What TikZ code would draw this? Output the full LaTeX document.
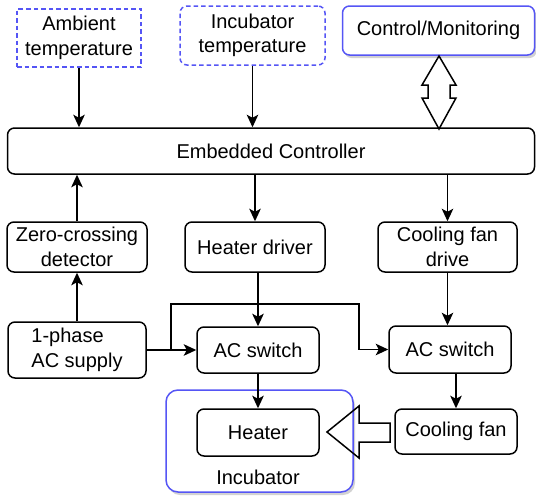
\documentclass[tikz,border=0pt]{standalone}
\usepackage{fontspec}
\setmainfont{Liberation Sans}
\usetikzlibrary{arrows.meta,shadows}
\definecolor{dblue}{RGB}{85,85,245}
\begin{document}
\begin{tikzpicture}[x=1pt,y=-1pt,line width=1.5pt,
  box/.style={draw, rounded corners=7pt, align=center, inner sep=0pt, fill=white,
    font=\fontsize{20}{24.5}\selectfont},
  sens/.style={box, draw=dblue, dash pattern=on 4.5pt off 3pt},
  arr/.style={-{Stealth[length=12.5pt,width=11.5pt,inset=3pt]}},
  lbl/.style={inner sep=0pt, font=\fontsize{20}{24.5}\selectfont},
  shad/.style={drop shadow={shadow xshift=2pt,shadow yshift=-3pt,fill=black!25,opacity=0.7}}]
\useasboundingbox (0,0) rectangle (536,498);
% top row
\node[sens, sharp corners, minimum width=124pt, minimum height=58pt] (amb) at (79,38) {Ambient\\temperature};
\node[sens, minimum width=145pt, minimum height=59pt] (inct) at (252.5,35.5) {Incubator\\temperature};
\node[box, draw=dblue, shad, minimum width=192pt, minimum height=49pt] (ctl) at (438.5,30.5) {Control/Monitoring};
% controller
\node[box, minimum width=527pt, minimum height=46pt] (ec) at (271,151) {Embedded Controller};
% middle row
\node[box, minimum width=140pt, minimum height=50pt] (zc) at (77,247) {Zero-crossing\\detector};
\node[box, minimum width=140pt, minimum height=50pt] (hd) at (255,247) {Heater driver};
\node[box, minimum width=139pt, minimum height=50pt] (cfd) at (447.5,247) {Cooling fan\\drive};
% lower rows
\node[box, minimum width=138pt, minimum height=56pt] (ac) at (77,350) {\begin{tabular}{@{}l@{}}1-phase\\AC supply\end{tabular}};
\node[box, minimum width=122pt, minimum height=46pt] (sw1) at (258,350) {AC switch};
\node[box, minimum width=122pt, minimum height=47pt] (sw2) at (450,349.5) {AC switch};
\node[box, draw=dblue, rounded corners=12pt, shad, minimum width=187pt, minimum height=102pt] (inc) at (259.5,441) {};
\node[lbl] (inclbl) at (258,477) {Incubator};
\node[box, minimum width=122pt, minimum height=47pt] (heat) at (258,432.5) {Heater};
\node[box, minimum width=122pt, minimum height=45pt] (fan) at (456,431.5) {Cooling fan};
% connectors
\draw[arr] (amb.south) -- (amb.south |- ec.north);
\draw[arr] (inct.south) -- (inct.south |- ec.north);
\draw[arr] (hd.north |- ec.south) -- (hd.north);
\draw[arr] (cfd.north |- ec.south) -- (cfd.north);
\draw[arr] (zc.north) -- (zc.north |- ec.south);
\draw[arr] (ac.north) -- (ac.north |- zc.south);
\draw[arr] (sw1.north |- hd.south) -- (sw1.north);
\draw[arr] (cfd.south) -- (cfd.south |- sw2.north);
\draw[arr] (sw1.south) -- (heat.north);
\draw[arr] (fan.north |- sw2.south) -- (fan.north);
\draw[arr] (ac.east) -- (sw1.west);
\coordinate (b1) at (171,350);
\coordinate (b2) at (359,304);
\draw[arr] (b1) |- (b2) |- (sw2.west);
% double hollow arrow
\draw[line join=miter] (439,56) -- (456,85) -- (450,85) -- (450,98) -- (456,98) -- (439,129)
  -- (422,98) -- (428,98) -- (428,85) -- (422,85) -- cycle;
% big hollow arrow
\draw[line join=miter] (327,432) -- (359,406) -- (359,423) -- (390,423) -- (390,442)
  -- (359,442) -- (359,458) -- cycle;
\end{tikzpicture}
\end{document}
